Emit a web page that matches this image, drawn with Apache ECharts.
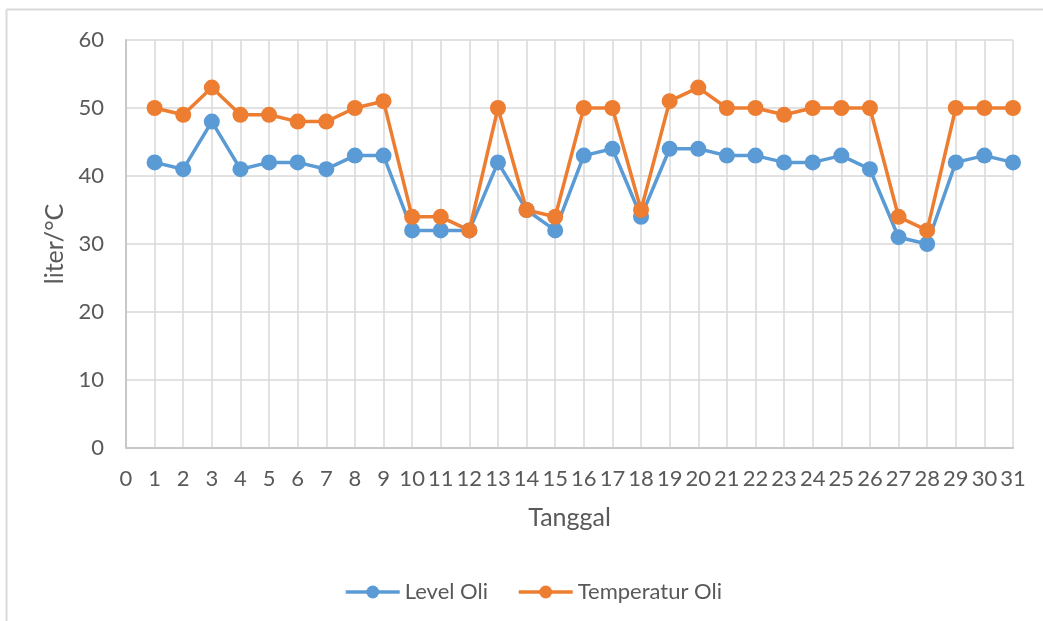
<!DOCTYPE html>
<html>
<head>
<meta charset="utf-8">
<script src="https://cdn.jsdelivr.net/npm/echarts@6/dist/echarts.min.js"></script>
<style>
html,body{margin:0;padding:0;background:#fff;}
#chart{width:1043px;height:621px;}
</style>
</head>
<body>
<div id="chart"></div>
<script>
// Days of the month (x values)
const days = [1,2,3,4,5,6,7,8,9,10,11,12,13,14,15,16,17,18,19,20,21,22,23,24,25,26,27,28,29,30,31];
// Oil level (liter)
const levelOli = [42,41,48,41,42,42,41,43,43,32,32,32,42,35,32,43,44,34,44,44,43,43,42,42,43,41,31,30,42,43,42];
// Oil temperature (°C)
const temperaturOli = [50,49,53,49,49,48,48,50,51,34,34,32,50,35,34,50,50,35,51,53,50,50,49,50,50,50,34,32,50,50,50];

const pairs = vals => days.map((d, i) => [d, vals[i]]);

const font = 'Lato, "Noto Sans", sans-serif';
const textColor = '#595959';

const chart = echarts.init(document.getElementById('chart'));
chart.setOption({
  backgroundColor: '#fff',
  animation: false,
  textStyle: { fontFamily: font },
  graphic: [
    { type: 'line', shape: { x1: 6.5, y1: 9.5, x2: 1043, y2: 9.5 }, style: { stroke: '#d9d9d9', lineWidth: 2 } },
    { type: 'line', shape: { x1: 6.5, y1: 9.5, x2: 6.5, y2: 621 }, style: { stroke: '#d9d9d9', lineWidth: 2 } }
  ],
  grid: { left: 126, right: 30, top: 40, bottom: 173, containLabel: false },
  legend: {
    top: 576,
    left: 339,
    itemWidth: 54,
    itemHeight: 16,
    itemGap: 29,
    lineStyle: { width: 3.5 },
    textStyle: { fontSize: 22, color: textColor, fontFamily: font },
    data: ['Level Oli', 'Temperatur Oli']
  },
  xAxis: {
    type: 'value',
    min: 0,
    max: 31,
    interval: 1,
    name: 'Tanggal',
    nameLocation: 'middle',
    nameGap: 57,
    nameTextStyle: { fontSize: 25, color: textColor, fontFamily: font },
    axisLine: { show: true, lineStyle: { color: '#c8c8c8', width: 2 } },
    axisTick: { show: false },
    axisLabel: { fontSize: 22, color: textColor, margin: 20, fontFamily: font },
    splitLine: { show: true, lineStyle: { color: '#d9d9d9', width: 1.5 } }
  },
  yAxis: {
    type: 'value',
    min: 0,
    max: 60,
    interval: 10,
    name: 'liter/°C',
    nameLocation: 'middle',
    nameGap: 54,
    nameRotate: 90,
    nameTextStyle: { fontSize: 25, color: textColor, fontFamily: font },
    axisLine: { show: true, lineStyle: { color: '#c8c8c8', width: 2 } },
    axisTick: { show: false },
    axisLabel: { fontSize: 22, color: textColor, margin: 22, fontFamily: font },
    splitLine: { show: true, lineStyle: { color: '#d9d9d9', width: 1.5 } }
  },
  series: [
    {
      name: 'Level Oli',
      type: 'line',
      data: pairs(levelOli),
      symbol: 'circle',
      symbolSize: 16,
      lineStyle: { color: '#5B9BD5', width: 3.5 },
      itemStyle: { color: '#5B9BD5' }
    },
    {
      name: 'Temperatur Oli',
      type: 'line',
      data: pairs(temperaturOli),
      symbol: 'circle',
      symbolSize: 16,
      lineStyle: { color: '#ED7D31', width: 3.5 },
      itemStyle: { color: '#ED7D31' }
    }
  ]
});
</script>
</body>
</html>
